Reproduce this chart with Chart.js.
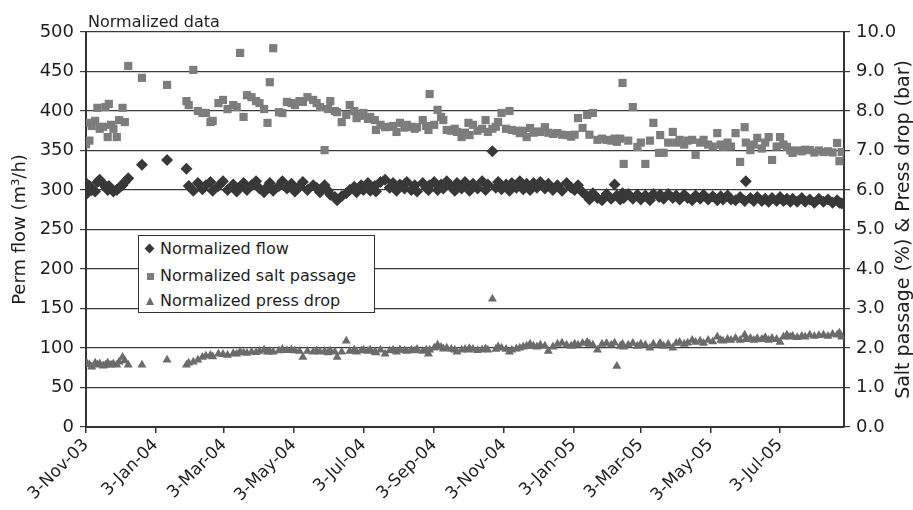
<!DOCTYPE html>
<html><head><meta charset="utf-8">
<script src="https://cdn.jsdelivr.net/npm/chart.js@4"></script>
<style>
html,body{margin:0;padding:0;background:#fff;overflow:hidden}
#wrap{position:relative;width:913px;height:510px}
#legend{position:absolute;left:138px;top:235px;width:237px;height:78px;border:1px solid #333;background:#fff;box-sizing:border-box;font:16px "DejaVu Sans";color:#1e1e1e}
.row{position:absolute;left:0;height:20px;line-height:20px;white-space:nowrap;width:230px}
.row span{position:absolute;left:21px;top:0}
.dia{position:absolute;left:7px;top:6px;width:7px;height:7px;background:#383838;transform:rotate(45deg)}
.sq{position:absolute;left:8px;top:7px;width:7px;height:7px;background:#7d7d7d}
.tri{position:absolute;left:7px;top:6px;width:0;height:0;border-left:4.5px solid transparent;border-right:4.5px solid transparent;border-bottom:8px solid #6b6b6b}
</style></head>
<body>
<div id="wrap">
<canvas id="c" width="913" height="510"></canvas>
<div id="legend">
 <div class="row" style="top:3px"><i class="dia"></i><span>Normalized flow</span></div>
 <div class="row" style="top:30px"><i class="sq"></i><span>Normalized salt passage</span></div>
 <div class="row" style="top:55px"><i class="tri"></i><span>Normalized press drop</span></div>
</div>
</div>
<script>
// Days since 3-Nov-03
const days = [
0,1,3,5,8,10,12,15,17,19,20,22,24,27,29,32,34,37,
49,71,88,
90,94,98,102,105,109,111,116,120,124,129,132,135,138,141,145,149,152,156,159,161,164,169,172,176,180,183,187,190,194,199,
202,205,209,212,214,218,220,224,228,231,235,237,241,243,247,249,253,254,258,262,266,269,272,275,279,281,285,288,290,295,298,300,
301,305,308,311,313,316,320,323,325,329,332,335,336,339,343,347,350,352,356,359,361,364,368,371,373,377,380,383,386,389,392,395,398,
402,405,409,413,417,421,425,428,431,435,439,441,444,448,452,456,460,463,465,468,470,471,475,479,483,486,490,494,497,
502,503,506,510,514,517,520,524,527,531,534,538,541,545,549,553,556,558,562,565,569,573,577,578,582,585,588,592,595,598,
601,605,608,611,614,617,619,623,627,630,634,638,642,646,650,654,658,660,662
];
// Normalized flow (m3/h), left axis
const flow = [
309,296,305,300,298,310,313,308,304,300,305,302,298,300,303,306,310,315,
332,338,327,
305,299,309,301,306,310,299,305,311,300,307,298,304,309,300,306,311,302,297,304,309,299,305,311,302,308,298,304,310,300,306,
303,297,306,299,294,291,287,292,296,300,304,297,306,300,309,299,305,298,310,313,303,309,299,307,302,310,300,306,298,309,303,300,
306,310,300,307,302,311,304,299,309,302,310,304,299,308,302,311,300,307,349,303,310,301,307,299,309,303,311,301,308,300,309,303,310,
302,308,300,306,299,309,303,300,306,297,292,288,296,290,287,295,289,307,293,288,296,290,295,289,294,288,293,287,295,
291,294,289,295,290,293,288,294,290,287,293,289,294,288,292,287,292,288,293,288,287,291,286,311,290,286,291,286,289,285,
290,286,291,286,289,285,289,285,290,285,288,284,289,285,288,284,287,284,283
];
// Normalized salt passage (%), right axis
const salt = [
7.16,7.70,7.25,7.62,7.75,8.08,7.55,7.60,8.10,7.34,8.18,7.65,7.55,7.34,7.77,8.08,7.72,9.14,
8.84,8.66,8.25,
8.15,9.04,8.00,7.95,7.95,7.72,7.75,8.20,8.28,8.05,8.15,8.10,9.47,7.85,8.40,8.35,8.25,8.20,8.05,7.70,8.73,9.59,7.97,7.95,8.23,8.20,8.15,8.25,8.23,8.35,8.28,
8.20,8.10,7.01,8.05,8.25,8.00,7.97,7.72,7.90,8.15,8.00,7.82,7.88,7.95,7.80,7.85,7.77,7.52,7.65,7.59,7.60,7.62,7.47,7.70,7.58,7.65,7.60,7.55,7.59,7.77,7.62,7.52,
8.43,7.65,8.03,7.85,7.77,7.52,7.50,7.55,7.47,7.34,7.45,7.70,7.39,7.65,7.50,7.55,7.77,7.47,7.55,7.60,7.72,7.95,7.55,8.00,7.52,7.50,7.44,7.50,7.34,7.57,7.45,7.48,7.47,
7.59,7.45,7.42,7.44,7.40,7.39,7.35,7.40,7.82,7.57,7.90,7.40,7.95,7.27,7.30,7.27,7.25,7.30,7.22,7.30,8.71,6.66,7.25,8.10,7.09,7.20,6.66,7.25,7.70,
6.94,7.39,6.94,7.20,7.47,7.20,7.27,7.15,7.25,7.27,6.89,7.20,7.27,7.15,7.10,7.44,7.15,7.09,7.20,7.10,7.44,6.71,7.59,7.20,7.01,7.15,7.32,7.05,7.20,7.34,
6.76,7.10,7.34,7.15,7.09,7.00,6.94,7.00,6.98,7.02,7.01,6.95,7.00,6.96,6.98,6.95,7.19,6.73,6.96
];
// Normalized press drop (bar), right axis
const press = [
1.62,1.60,1.58,1.52,1.62,1.57,1.60,1.55,1.57,1.62,1.58,1.57,1.60,1.57,1.65,1.77,1.68,1.57,
1.57,1.70,1.57,
1.62,1.65,1.70,1.77,1.80,1.82,1.78,1.85,1.84,1.82,1.86,1.85,1.90,1.88,1.87,1.90,1.89,1.92,1.95,1.90,1.91,1.90,1.93,1.97,1.94,1.95,1.93,1.92,1.77,1.92,1.90,
1.93,1.90,1.92,1.88,1.93,1.90,1.77,1.90,2.18,1.92,1.95,1.90,1.93,1.95,1.92,1.95,1.90,1.88,1.95,1.85,1.93,1.95,1.90,1.96,1.94,1.92,1.95,1.93,1.97,1.92,1.95,1.85,
1.95,2.00,2.08,2.02,1.98,2.00,1.97,1.95,1.90,1.95,1.97,1.95,1.99,1.97,1.94,1.96,1.98,1.95,3.24,1.97,2.03,2.00,1.97,1.90,1.95,1.98,2.00,2.03,2.05,2.10,2.05,2.03,2.08,
2.05,1.92,2.03,2.10,2.13,2.08,2.05,2.10,2.08,2.12,2.15,2.10,2.08,1.95,2.10,2.12,2.08,2.13,1.54,2.05,2.10,2.03,2.08,2.12,2.05,2.10,2.08,2.00,2.10,
2.08,2.12,2.05,2.10,2.00,2.12,2.15,2.10,2.13,2.20,2.15,2.18,2.12,2.20,2.16,2.28,2.20,2.18,2.22,2.20,2.25,2.20,2.33,2.22,2.25,2.20,2.24,2.22,2.27,2.20,
2.25,2.22,2.15,2.28,2.33,2.28,2.30,2.27,2.30,2.28,2.33,2.30,2.32,2.33,2.30,2.35,2.33,2.38,2.28
];
const xTickDays = [0,61,121,182,243,305,366,427,486,547,608];
const xTickLabels = ['3-Nov-03','3-Jan-04','3-Mar-04','3-May-04','3-Jul-04','3-Sep-04','3-Nov-04','3-Jan-05','3-Mar-05','3-May-05','3-Jul-05'];
const xMaxDay = 664;

const pts = (vals) => days.map((d, i) => ({x: d, y: vals[i]}));
const FONT = 'DejaVu Sans';
const TXT = '#1e1e1e';

const annot = {
  id: 'annot',
  afterDraw(chart) {
    const ctx = chart.ctx, a = chart.chartArea;
    ctx.save();
    ctx.fillStyle = TXT;
    ctx.font = '16px "' + FONT + '"';
    ctx.textAlign = 'left';
    ctx.textBaseline = 'alphabetic';
    ctx.fillText('Normalized data', 88, 27);
    ctx.translate(904, (a.top + a.bottom) / 2);
    ctx.rotate(-Math.PI / 2);
    ctx.font = '19px "' + FONT + '"';
    ctx.textAlign = 'center';
    ctx.textBaseline = 'middle';
    ctx.fillText('Salt passage (%) & Press drop (bar)', 0, 0);
    ctx.restore();
  }
};

new Chart(document.getElementById('c'), {
  type: 'scatter',
  data: {
    datasets: [
      {label: 'Normalized flow', data: pts(flow), yAxisID: 'y', pointStyle: 'rectRot', pointRadius: 6, backgroundColor: '#383838', borderWidth: 0, pointHoverRadius: 6},
      {label: 'Normalized salt passage', data: pts(salt), yAxisID: 'y2', pointStyle: 'rect', pointRadius: 5.8, backgroundColor: '#7d7d7d', borderWidth: 0, pointHoverRadius: 5.8},
      {label: 'Normalized press drop', data: pts(press), yAxisID: 'y2', pointStyle: 'triangle', pointRadius: 5.2, backgroundColor: '#6b6b6b', borderWidth: 0, pointHoverRadius: 5.2}
    ]
  },
  options: {
    responsive: false,
    animation: false,
    events: [],
    layout: {padding: {top: 32, left: 0, right: 0, bottom: 0}},
    plugins: {legend: {display: false}, tooltip: {enabled: false}},
    scales: {
      x: {
        type: 'linear', min: 0, max: xMaxDay,
        afterBuildTicks: s => { s.ticks = xTickDays.map(v => ({value: v})); },
        afterFit: s => { s.height = 83; },
        ticks: {
          autoSkip: false, minRotation: 45, maxRotation: 45, padding: 2,
          color: TXT, font: {family: FONT, size: 17},
          callback: v => xTickLabels[xTickDays.indexOf(v)]
        },
        grid: {drawOnChartArea: false, tickLength: 6, color: '#333', lineWidth: 1.5},
        border: {color: '#333', width: 2}
      },
      y: {
        position: 'left', min: 0, max: 500,
        afterFit: s => { s.width = 86; },
        ticks: {stepSize: 50, padding: 6, color: TXT, font: {family: FONT, size: 18}},
        grid: {color: '#3a3a3a', lineWidth: 1.2, tickLength: 6},
        border: {color: '#333', width: 2},
        title: {display: true, text: 'Perm flow (m³/h)', color: TXT, font: {family: FONT, size: 18, lineHeight: 1}, padding: {top: 11, bottom: 0}}
      },
      y2: {
        position: 'right', min: 0, max: 10,
        afterFit: s => { s.width = 69; },
        ticks: {stepSize: 1, padding: 6, color: TXT, font: {family: FONT, size: 18}, callback: v => v.toFixed(1)},
        grid: {drawOnChartArea: false, color: '#3a3a3a', lineWidth: 1.2, tickLength: 6},
        border: {color: '#333', width: 2}
      }
    }
  },
  plugins: [annot]
});
</script>
</body></html>
